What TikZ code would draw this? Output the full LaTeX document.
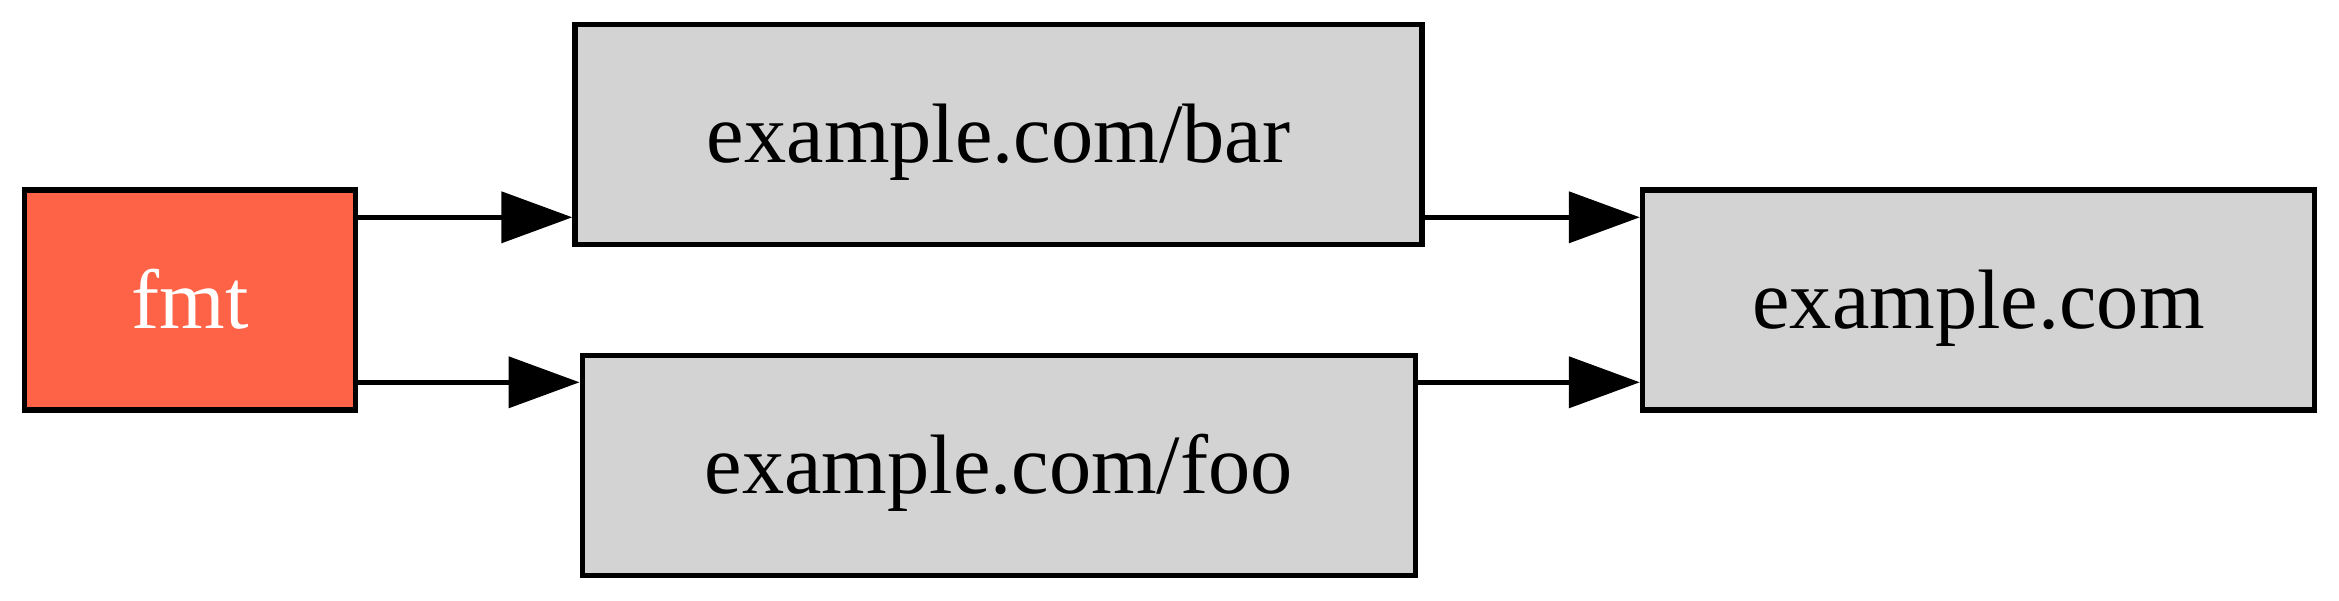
\documentclass[tikz,border=0pt]{standalone}
\usepackage{fontspec}
\setmainfont{Liberation Serif}
\usetikzlibrary{arrows.meta}

\begin{document}
\begin{tikzpicture}
			[every node/.style={rectangle,
			draw=black, line width=1.5pt,
			fill=lightgray, text height=21pt, text depth=4.8pt,
			font=\fontsize{24}{28}\selectfont, minimum height=2.2cm},
			edge/.style={line width=1.5pt, -{Triangle[length=7.1mm,width=5.06mm]}}]
			\definecolor{lightgray}{HTML}{D3D3D3}
			\definecolor{tomato}{HTML}{FF6347}
			\useasboundingbox (0,0) rectangle (23.39,6);

			\node [fill=tomato, text=white, minimum width=3.31cm] (fmt) at (1.90,3.00) {fmt};

			\node [minimum width=8.47cm] (bar) at (9.985,4.657) {example.com/bar};
			\node [minimum width=8.33cm] (foo) at (9.987,1.345) {example.com/foo};

			\node [minimum width=6.72cm] (com) at (19.785,3.00) {example.com};

			%%arestas
			\foreach \from/\to/\dy in {fmt/bar/8.27mm,fmt/foo/-8.23mm}
			\draw[edge] ([yshift=\dy]\from.east) -- ([yshift=\dy]\from.east -| \to.west);

			\foreach \from/\to/\dy in {bar/com/8.27mm,foo/com/-8.23mm}
			\draw[edge] ([yshift=\dy]\to.west -| \from.east) -- ([yshift=\dy]\to.west);
		\end{tikzpicture}
\end{document}
